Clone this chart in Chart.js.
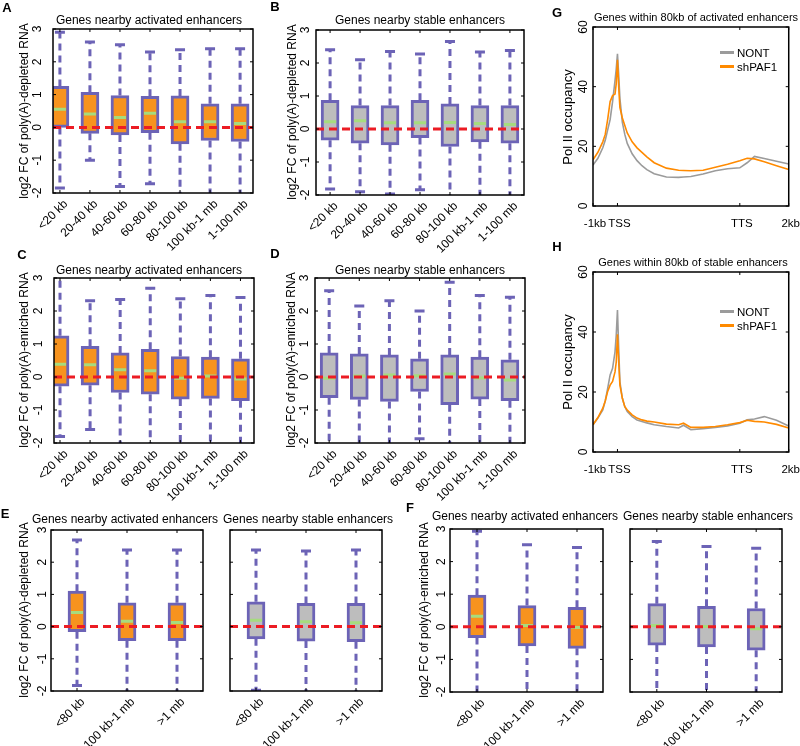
<!DOCTYPE html>
<html lang="en">
<head>
<meta charset="UTF-8">
<title>Enhancer distance boxplots and Pol II profiles</title>
<script src="https://cdn.jsdelivr.net/npm/chart.js"></script>
<style>
  body { margin:0; width:800px; height:746px; background:#fff; position:relative; overflow:hidden;
         font-family:"Liberation Sans", Arial, sans-serif; color:#000; }
  canvas { position:absolute; }
  .ttl { position:absolute; white-space:nowrap; font-size:12px; transform:translate(-50%,-50%); }
  .ylab { position:absolute; white-space:nowrap; font-size:12px; transform:translate(-50%,-50%) rotate(-90deg); }
  .panel { position:absolute; font-weight:bold; font-size:13px; transform:translate(-50%,-50%); }
  .leg { position:absolute; font-size:11.5px; white-space:nowrap; transform:translateY(-50%); }
  .leg i { display:inline-block; width:14px; height:3px; vertical-align:middle; margin-right:3px; position:relative; top:-1px; }
</style>
</head>
<body>
<script>
// categories
const catsFine = ['<20 kb', '20-40 kb', '40-60 kb', '60-80 kb', '80-100 kb', '100 kb-1 mb', '1-100 mb'];
const catsCoarse = ['<80 kb', '100 kb-1 mb', '>1 mb'];
const boxTicks = [-2, -1, 0, 1, 2, 3];

// A: activated enhancers, poly(A)-depleted
const aLo  = [-1.85, -1.0, -1.8, -1.72, -2.2, -2.2, -2.2];
const aQ1  = [0.0, -0.18, -0.23, -0.16, -0.5, -0.4, -0.43];
const aMed = [0.55, 0.41, 0.3, 0.43, 0.17, 0.17, 0.12];
const aQ3  = [1.25, 1.07, 0.97, 0.95, 0.96, 0.72, 0.72];
const aHi  = [2.9, 2.6, 2.52, 2.3, 2.37, 2.4, 2.4];

// B: stable enhancers, poly(A)-depleted
const bLo  = [-1.82, -1.9, -1.97, -1.84, -2.2, -2.2, -2.2];
const bQ1  = [-0.34, -0.43, -0.48, -0.26, -0.53, -0.39, -0.43];
const bMed = [0.22, 0.25, 0.19, 0.19, 0.2, 0.17, 0.14];
const bQ3  = [0.87, 0.71, 0.71, 0.87, 0.76, 0.71, 0.71];
const bHi  = [2.4, 2.1, 2.35, 2.27, 2.65, 2.33, 2.38];

// C: activated enhancers, poly(A)-enriched
const cLo  = [-1.8, -1.59, -2.2, -2.2, -2.2, -2.2, -2.2];
const cQ1  = [-0.28, -0.25, -0.47, -0.52, -0.67, -0.65, -0.72];
const cMed = [0.39, 0.37, 0.22, 0.19, -0.04, 0.03, -0.06];
const cQ3  = [1.25, 0.93, 0.73, 0.84, 0.62, 0.6, 0.55];
const cHi  = [3.2, 2.31, 2.35, 2.69, 2.37, 2.47, 2.41];

// D: stable enhancers, poly(A)-enriched
const dLo  = [-2.2, -2.2, -2.2, -1.87, -2.2, -2.2, -2.2];
const dQ1  = [-0.63, -0.68, -0.74, -0.44, -0.84, -0.67, -0.72];
const dMed = [-0.04, 0.03, 0.06, 0.04, 0.09, -0.03, -0.09];
const dQ3  = [0.73, 0.7, 0.67, 0.55, 0.67, 0.6, 0.52];
const dHi  = [2.61, 2.15, 2.31, 2.0, 2.87, 2.47, 2.42];

// E: poly(A)-depleted, activated / stable
const eaLo  = [-1.83, -2.2, -2.2];
const eaQ1  = [-0.16, -0.44, -0.44];
const eaMed = [0.44, 0.17, 0.13];
const eaQ3  = [1.1, 0.74, 0.74];
const eaHi  = [2.69, 2.38, 2.38];
const esLo  = [-1.98, -2.2, -2.2];
const esQ1  = [-0.38, -0.45, -0.47];
const esMed = [0.2, 0.15, 0.12];
const esQ3  = [0.77, 0.72, 0.72];
const esHi  = [2.38, 2.35, 2.38];

// F: poly(A)-enriched, activated / stable
const faLo  = [-2.2, -2.2, -2.2];
const faQ1  = [-0.33, -0.59, -0.66];
const faMed = [0.32, 0.04, -0.02];
const faQ3  = [0.97, 0.65, 0.6];
const faHi  = [2.93, 2.52, 2.43];
const fsLo  = [-2.2, -2.2, -2.2];
const fsQ1  = [-0.56, -0.62, -0.72];
const fsMed = [0.04, 0.01, -0.06];
const fsQ3  = [0.71, 0.63, 0.56];
const fsHi  = [2.62, 2.46, 2.41];

// G / H: Pol II metagene profiles (-1kb .. TSS=0 .. TTS=5 .. +2kb=7)
const profX     = [-1, -0.8, -0.6, -0.5, -0.4, -0.3, -0.2, -0.1, -0.05, 0, 0.05, 0.1, 0.2, 0.3, 0.4, 0.6, 0.8, 1.0, 1.2, 1.5, 2, 2.5, 2.7, 3, 3.5, 4, 4.5, 5, 5.3, 5.6, 6, 6.5, 7];
const profTicks = [-1, 0, 5, 7];
const profTickLabels = ['-1kb', 'TSS', 'TTS', '2kb'];
const profYTicks = [0, 20, 40, 60];
const gNont = [13.7, 16, 19.5, 22, 25.5, 29, 35, 42, 46, 51, 44, 36, 28, 24, 21, 17.5, 15.2, 13.5, 12.2, 10.8, 9.7, 9.6, 9.7, 9.9, 10.7, 11.8, 12.5, 12.8, 14.5, 16.6, 15.9, 15, 14.1];
const gPaf  = [15.5, 18, 21.5, 24, 29, 35, 37, 37.5, 41, 49, 40, 33, 29.5, 27, 24.5, 21.5, 19.5, 18, 16.5, 14.5, 12.7, 12, 11.9, 11.8, 12, 13, 14, 15.2, 16, 15.8, 14.8, 13.5, 12.2];
const hNont = [9.1, 11.3, 14, 17, 21.2, 25.7, 27.9, 33.4, 39, 47.3, 34.5, 23.4, 17.9, 15.1, 13.5, 11.8, 10.7, 10.2, 9.7, 9.1, 8.5, 8, 8.9, 7.4, 7.8, 8.2, 8.7, 9.6, 10.7, 11, 11.8, 10.6, 8.7];
const hPaf  = [9.1, 11.5, 14.6, 17, 20.2, 22.3, 23.5, 26.7, 30, 39.2, 30, 22.3, 17.9, 15.1, 14, 12.4, 11.3, 10.7, 10.3, 10, 9.3, 9.1, 9.6, 8.2, 8.2, 8.5, 9.1, 9.8, 10.6, 10.2, 10, 9.2, 8];

const PURPLE = '#6c63b6';
const ORANGE = '#f7931e';
const GREY = '#bdbdbd';
const GREEN = '#a6dc7e';
const RED = '#ec1c24';

Chart.defaults.font.family = '"Liberation Sans", Arial, sans-serif';
Chart.defaults.color = '#000';

function addText(cls, text, x, y, extra) {
  const d = document.createElement('div');
  d.className = cls;
  d.textContent = text;
  d.style.left = x + 'px';
  d.style.top = y + 'px';
  if (extra) Object.assign(d.style, extra);
  document.body.appendChild(d);
  return d;
}

// canvas around the wanted plot rectangle [l, t, r, b]; the x axis gets `below` px
function addCanvas(rect, below) {
  const [l, t, r, b] = rect;
  const c = document.createElement('canvas');
  const pad = { left: 40, top: 8, right: 8, bottom: 0 };
  c.width = (r - l) + pad.left + pad.right;
  c.height = (b - t) + pad.top + below;
  c.style.left = (l - pad.left) + 'px';
  c.style.top = (t - pad.top) + 'px';
  document.body.appendChild(c);
  return { c, pad };
}

// frame, inward ticks, rotated y tick labels
function frameTicks(xTicks, yTicks, labelOffset) {
  return {
    id: 'frameTicks',
    afterDraw(chart) {
      const { ctx, chartArea: a, scales: { x, y } } = chart;
      ctx.save();
      ctx.strokeStyle = '#000';
      ctx.lineWidth = 1.5;
      ctx.strokeRect(a.left, a.top, a.width, a.height);
      ctx.lineWidth = 1;
      ctx.beginPath();
      xTicks.forEach(v => {
        const px = x.getPixelForValue(v);
        ctx.moveTo(px, a.bottom); ctx.lineTo(px, a.bottom - 3);
        ctx.moveTo(px, a.top); ctx.lineTo(px, a.top + 3);
      });
      yTicks.forEach(v => {
        const py = y.getPixelForValue(v);
        ctx.moveTo(a.left, py); ctx.lineTo(a.left + 3, py);
        ctx.moveTo(a.right, py); ctx.lineTo(a.right - 3, py);
      });
      ctx.stroke();
      if (labelOffset) {
        ctx.fillStyle = '#000';
        ctx.font = '12px "Liberation Sans", Arial, sans-serif';
        ctx.textAlign = 'center';
        ctx.textBaseline = 'middle';
        yTicks.forEach(v => {
          ctx.save();
          ctx.translate(a.left - labelOffset, y.getPixelForValue(v));
          ctx.rotate(-Math.PI / 2);
          ctx.fillText(String(v), 0, 0);
          ctx.restore();
        });
      }
      ctx.restore();
    }
  };
}

// whiskers, caps and medians
function boxMarks(lo, med, hi) {
  return {
    id: 'boxMarks',
    beforeDatasetsDraw(chart) {
      const { ctx, chartArea: a, scales: { x, y } } = chart;
      const box = chart.data.datasets[0].data;
      ctx.save();
      ctx.beginPath();
      ctx.rect(a.left, a.top, a.width, a.height);
      ctx.clip();
      ctx.strokeStyle = PURPLE;
      ctx.lineWidth = 3;
      box.forEach((d, i) => {
        const px = x.getPixelForValue(d.x);
        ctx.setLineDash([7, 5]);
        ctx.beginPath();
        ctx.moveTo(px, y.getPixelForValue(d.y[1])); ctx.lineTo(px, y.getPixelForValue(hi[i]));
        ctx.moveTo(px, y.getPixelForValue(d.y[0])); ctx.lineTo(px, y.getPixelForValue(lo[i]));
        ctx.stroke();
        ctx.setLineDash([]);
        ctx.beginPath();
        [hi[i], lo[i]].forEach(v => {
          const py = y.getPixelForValue(v);
          ctx.moveTo(px - 5, py); ctx.lineTo(px + 5, py);
        });
        ctx.stroke();
      });
      ctx.restore();
    },
    afterDatasetDraw(chart, args) {
      if (args.index !== 0) return;
      const { ctx, scales: { x, y } } = chart;
      ctx.save();
      ctx.strokeStyle = GREEN;
      ctx.lineWidth = 3;
      ctx.beginPath();
      chart.data.datasets[0].data.forEach((d, i) => {
        const px = x.getPixelForValue(d.x);
        const py = y.getPixelForValue(med[i]);
        ctx.moveTo(px - 6, py); ctx.lineTo(px + 6, py);
      });
      ctx.stroke();
      ctx.restore();
    }
  };
}

function boxChart(rect, cats, xr, lo, q1, med, q3, hi, fill, labelOffset) {
  const below = 75;
  const { c, pad } = addCanvas(rect, below);
  return new Chart(c, {
    type: 'bar',
    data: {
      datasets: [{
        data: cats.map((_, i) => ({ x: i, y: [q1[i], q3[i]] })),
        backgroundColor: fill,
        borderColor: PURPLE,
        borderWidth: 3,
        borderSkipped: false,
        barThickness: 18,
        order: 2
      }, {
        type: 'line',
        data: [{ x: xr[0], y: 0 }, { x: xr[1], y: 0 }],
        borderColor: RED,
        borderWidth: 3,
        borderDash: [8, 5],
        pointRadius: 0,
        order: 1
      }]
    },
    options: {
      responsive: false,
      animation: false,
      events: [],
      layout: { padding: pad },
      plugins: { legend: { display: false }, tooltip: { enabled: false } },
      scales: {
        x: {
          type: 'linear', min: xr[0], max: xr[1], offset: false,
          grid: { display: false }, border: { display: false },
          afterBuildTicks: s => { s.ticks = cats.map((_, i) => ({ value: i })); },
          afterFit: s => { s.height = below; },
          ticks: { autoSkip: false, minRotation: 45, maxRotation: 45, padding: -4, labelOffset: 6,
                   font: { size: 12 }, callback: v => cats[v] }
        },
        y: { display: false, min: -2, max: 3 }
      }
    },
    plugins: [boxMarks(lo, med, hi), frameTicks(cats.map((_, i) => i), boxTicks, labelOffset)]
  });
}

function profileChart(rect, nont, paf) {
  const below = 30;
  const { c, pad } = addCanvas(rect, below);
  return new Chart(c, {
    type: 'line',
    data: {
      datasets: [
        { label: 'shPAF1', data: profX.map((x, i) => ({ x, y: paf[i] })), borderColor: '#ff8a00', borderWidth: 1.6, pointRadius: 0 },
        { label: 'NONT', data: profX.map((x, i) => ({ x, y: nont[i] })), borderColor: '#9b9b9b', borderWidth: 1.6, pointRadius: 0 }
      ]
    },
    options: {
      responsive: false,
      animation: false,
      events: [],
      layout: { padding: pad },
      plugins: { legend: { display: false }, tooltip: { enabled: false } },
      scales: {
        x: {
          type: 'linear', min: -1, max: 7,
          grid: { display: false }, border: { display: false },
          afterBuildTicks: s => { s.ticks = profTicks.map(v => ({ value: v })); },
          afterFit: s => { s.height = below; },
          ticks: { autoSkip: false, maxRotation: 0, padding: 3, labelOffset: 2, font: { size: 11.5 },
                   callback: v => profTickLabels[profTicks.indexOf(v)] }
        },
        y: { display: false, min: 0, max: 60 }
      }
    },
    plugins: [frameTicks(profTicks, profYTicks, 9)]
  });
}

// panels A-D
boxChart([53, 29, 253, 193], catsFine, [-0.23, 6.43], aLo, aQ1, aMed, aQ3, aHi, ORANGE, 15);
boxChart([316, 30, 524, 195], catsFine, [-0.47, 6.47], bLo, bQ1, bMed, bQ3, bHi, GREY, 10);
boxChart([54, 278, 254, 443], catsFine, [-0.2, 6.45], cLo, cQ1, cMed, cQ3, cHi, ORANGE, 15);
boxChart([315, 278, 525, 443], catsFine, [-0.47, 6.5], dLo, dQ1, dMed, dQ3, dHi, GREY, 10);
// panels E-F
boxChart([51, 530, 203, 691], catsCoarse, [-0.52, 2.52], eaLo, eaQ1, eaMed, eaQ3, eaHi, ORANGE, 8);
boxChart([230, 530, 382, 691], catsCoarse, [-0.52, 2.52], esLo, esQ1, esMed, esQ3, esHi, GREY, 0);
boxChart([450, 529, 603, 692], catsCoarse, [-0.54, 2.52], faLo, faQ1, faMed, faQ3, faHi, ORANGE, 8);
boxChart([630, 529, 782, 692], catsCoarse, [-0.54, 2.52], fsLo, fsQ1, fsMed, fsQ3, fsHi, GREY, 0);
// panels G-H
profileChart([593, 27, 793, 206], gNont, gPaf);
profileChart([593, 272, 793, 452], hNont, hPaf);

// titles
addText('ttl', 'Genes nearby activated enhancers', 149, 20);
addText('ttl', 'Genes nearby stable enhancers', 420, 20);
addText('ttl', 'Genes nearby activated enhancers', 149, 270);
addText('ttl', 'Genes nearby stable enhancers', 420, 270);
addText('ttl', 'Genes nearby activated enhancers', 125, 519);
addText('ttl', 'Genes nearby stable enhancers', 308, 519);
addText('ttl', 'Genes nearby activated enhancers', 525, 516);
addText('ttl', 'Genes nearby stable enhancers', 708, 516);
addText('ttl', 'Genes within 80kb of activated enhancers', 696, 17, { fontSize: '11px' });
addText('ttl', 'Genes within 80kb of stable enhancers', 693, 262, { fontSize: '11px' });

// y axis titles
addText('ylab', 'log2 FC of poly(A)-depleted RNA', 24, 111);
addText('ylab', 'log2 FC of poly(A)-depleted RNA', 292, 112);
addText('ylab', 'log2 FC of poly(A)-enriched RNA', 24, 360);
addText('ylab', 'log2 FC of poly(A)-enriched RNA', 291, 360);
addText('ylab', 'log2 FC of poly(A)-depleted RNA', 24, 610);
addText('ylab', 'log2 FC of poly(A)-enriched RNA', 424, 610);
addText('ylab', 'Pol II occupancy', 567, 117, { fontSize: '13px' });
addText('ylab', 'Pol II occupancy', 567, 362, { fontSize: '13px' });

// panel letters
[['A', 7, 7], ['B', 275, 6], ['C', 22, 254], ['D', 275, 253], ['E', 5, 513],
 ['F', 410, 507], ['G', 557, 12], ['H', 557, 246]].forEach(p => addText('panel', p[0], p[1], p[2]));

// legends for G and H
function legend(x, y) {
  const a = addText('leg', '', x, y);
  a.innerHTML = '<i style="background:#9b9b9b"></i>NONT';
  const b = addText('leg', '', x, y + 14);
  b.innerHTML = '<i style="background:#ff8a00"></i>shPAF1';
}
legend(720, 53);
legend(720, 312);
</script>
</body>
</html>
